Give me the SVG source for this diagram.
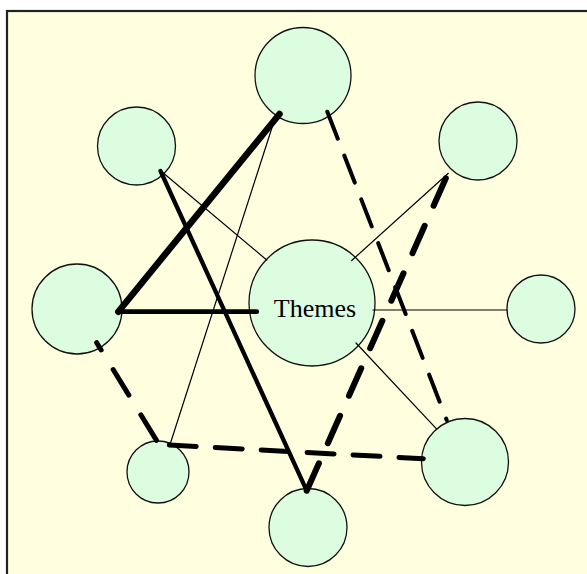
<svg xmlns="http://www.w3.org/2000/svg" width="587" height="574" viewBox="0 0 587 574">
<style>
.node{fill:#DDFDE0;stroke:#111;stroke-width:1.3}
.c{stroke:#000;fill:none;stroke-linecap:round}
.thin{stroke-width:1.2}
.lbl{font-family:"Liberation Serif","Times New Roman",serif;font-size:26px;fill:#000}
</style>
<rect x="0" y="0" width="587" height="574" fill="#fff"/>
<rect x="7" y="11" width="590" height="580" fill="#FFFFE0" stroke="#222" stroke-width="2.2"/>
<g id="n-top"><circle class="node" cx="303" cy="75.5" r="48"/></g>
<g id="n-upper-left"><circle class="node" cx="136.5" cy="146" r="39"/></g>
<g id="n-upper-right"><circle class="node" cx="478" cy="141" r="39"/></g>
<g id="n-left"><circle class="node" cx="77" cy="309" r="45"/></g>
<g id="n-right"><circle class="node" cx="541" cy="309" r="34"/></g>
<g id="n-lower-left"><circle class="node" cx="158" cy="472" r="31"/></g>
<g id="n-lower-right"><circle class="node" cx="465" cy="462" r="43.5"/></g>
<g id="n-bottom"><circle class="node" cx="308" cy="527.5" r="39"/></g>
<g id="n-themes"><circle class="node" cx="312" cy="303" r="63"/></g>
<g id="connectors">
<line class="c thin" x1="161.5" y1="171.5" x2="266.7" y2="260"/>
<line class="c thin" x1="275" y1="118.3" x2="169.3" y2="446.7"/>
<line class="c thin" x1="448.3" y1="173.3" x2="351.7" y2="260.5"/>
<line class="c thin" x1="373" y1="310" x2="507" y2="310"/>
<line class="c thin" x1="356" y1="343" x2="436.5" y2="428.8"/>
<line class="c" stroke-width="6.5" x1="279.5" y1="114" x2="118.3" y2="311.7"/>
<line class="c" stroke-width="4.8" x1="118.3" y1="311.7" x2="256.7" y2="311.7"/>
<line class="c" stroke-width="4.3" x1="160.5" y1="171" x2="306.7" y2="490.7"/>
<line class="c" stroke-width="6" stroke-dasharray="30 22" x1="306.7" y1="490.7" x2="448.3" y2="172.7"/>
<line class="c" stroke-width="4" stroke-dasharray="29 18" x1="327.3" y1="111.7" x2="446.7" y2="420"/>
<line class="c" stroke-width="5" stroke-dasharray="30 23" stroke-dashoffset="21.5" x1="96.7" y1="342.7" x2="158.3" y2="443.3"/>
<line class="c" stroke-width="5" stroke-dasharray="27 19" x1="169.3" y1="445" x2="423.3" y2="458.7"/>
</g>
<text class="lbl" x="315" y="317" text-anchor="middle">Themes</text>
</svg>
